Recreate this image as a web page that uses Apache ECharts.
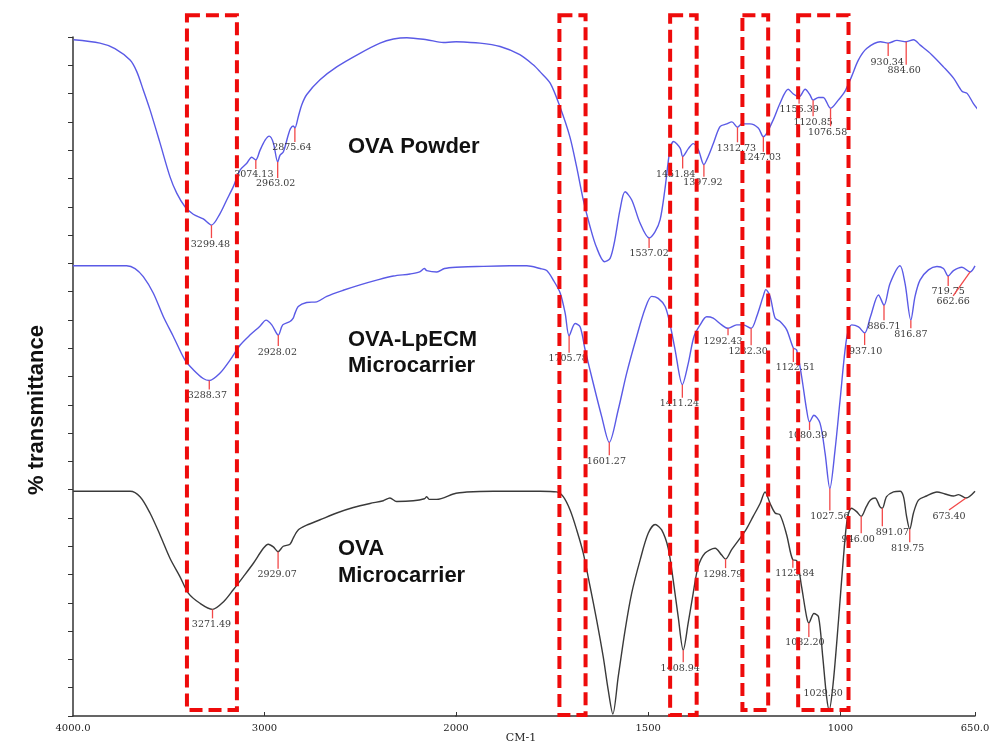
<!DOCTYPE html>
<html>
<head>
<meta charset="utf-8">
<script src="https://cdn.jsdelivr.net/npm/echarts@6/dist/echarts.min.js"></script>
<style>
  html, body { margin: 0; padding: 0; background: #fff; }
  #chart { width: 990px; height: 744px; }
</style>
</head>
<body>
<div id="chart"></div>
<script>
// FTIR spectra, wavenumber (cm-1) against % transmittance; the three traces are stacked with offsets.

// OVA powder: [wavenumber, %T]
const ovaPowder = [[4000,99.6],[3866,99.1],[3790,98.3],[3713,96.6],[3679,94.9],[3646,92.2],[3612,89.3],[3561,84.4],[3510,79.4],[3476,77.0],[3434,75.0],[3392,73.9],[3341,73.2],[3299.48,72.3],[3256,74.0],[3222,76.0],[3188,78.0],[3154,80.4],[3120,81.4],[3095,82.3],[3074.13,81.9],[3053,83.3],[3027,84.8],[3006,85.4],[2985,84.4],[2963.02,81.6],[2951,82.6],[2934,83.1],[2909,85.6],[2898,86.5],[2884,86.9],[2875.64,86.6],[2858,88.3],[2841,90.0],[2816,91.5],[2748,93.7],[2663,95.6],[2545,97.6],[2443,99.1],[2375,99.7],[2307,99.9],[2206,99.6],[2121,99.2],[2057,99.3],
  [2027,99.3],[1966,99.1],[1915,98.6],[1865,97.4],[1831,95.9],[1814,94.9],[1788,93.2],[1763,89.7],[1738,85.3],[1721,80.9],[1704,76.0],[1687,72.1],[1671,69.1],[1650,66.9],[1636,67.4],[1624,70.1],[1611,74.5],[1598,77.2],[1581,76.0],[1560,72.6],[1537.02,70.4],[1522,71.3],[1509,73.1],[1497,77.5],[1484,83.4],[1475,84.6],[1458,83.6],[1451.84,82.4],[1437,83.6],[1425,84.3],[1412,83.4],[1397.92,81.2],[1387,82.4],[1374,84.3],[1357,86.8],[1340,87.2],[1327,87.5],[1312.73,86.7],[1302,87.2],[1281,87.2],[1260,86.6],[1247.03,85.3],[1222,87.8],[1205,90.2],[1184,92.3],[1171,91.6],[1156.39,91.2],[1141,92.3],[1129,91.5],[1120.85,90.7],[1107,91.1],[1095,91.1],[1076.58,89.5],[1057,90.7],[1040,92.0],[1023,94.2],[1006,96.6],[985,98.3],[950,99.3],[930.34,99.1],[908,99.5],[884.6,99.3],[866,99.6],[849,98.8],[820,97.4],[790,95.6],[764,93.9],[743,92.0],[730,91.7],[714,90.2],[697,88.9]];
const ovaPowderPeaks = [3299.48, 3074.13, 2963.02, 2875.64, 1537.02, 1451.84, 1397.92, 1312.73, 1247.03, 1156.39, 1120.85, 1076.58, 930.34, 884.60];

// OVA-LpECM microcarrier
const ovaLpecm = [[4000,66.3],[3720,66.3],[3676,65.9],[3633,64.7],[3581,62.3],[3528,58.8],[3476,55.9],[3415,52.4],[3372,51.0],[3320,49.7],[3288.37,49.4],[3232,50.5],[3180,52.4],[3128,54.6],[3076,56.1],[3024,57.4],[2992,58.3],[2962,57.6],[2928.02,56.1],[2905,57.6],[2867,58.1],[2850,58.6],[2841,59.3],[2824,60.3],[2780,60.9],[2727,61.0],[2675,61.8],[2589,62.7],[2501,63.5],[2414,64.2],[2327,64.8],[2240,65.1],[2190,65.4],[2165,65.9],[2153,65.6],[2100,65.4],[2060,65.9],[2000,66.1],
  [1946,66.2],[1860,66.3],[1816,66.3],[1781,65.9],[1764,65.6],[1747,64.2],[1729,62.3],[1716,59.3],[1705.78,56.0],[1690,57.8],[1677,57.3],[1664,53.9],[1643,49.0],[1621,44.1],[1601.27,40.3],[1578,45.1],[1556,50.5],[1530,55.9],[1508,60.0],[1491,61.8],[1474,61.5],[1456,60.3],[1443,57.6],[1430,53.9],[1411.24,48.8],[1396,51.9],[1381,55.9],[1365,57.6],[1348,58.8],[1331,58.6],[1309,57.6],[1292.43,57.1],[1270,57.6],[1253,57.6],[1232.3,57.1],[1218,58.8],[1201,61.8],[1194,62.8],[1183,61.8],[1170,58.6],[1157,58.1],[1140,56.9],[1122.51,54.2],[1114,53.9],[1101,50.0],[1088,45.1],[1080.39,43.3],[1069,44.3],[1053,43.1],[1040,38.7],[1027.56,33.5],[1014,39.2],[1001,46.5],[984,55.6],[971,57.6],[953,57.3],[937.1,56.4],[922,58.8],[901,62.0],[886.71,60.5],[871,63.7],[845,66.3],[832,63.7],[816.87,58.3],[806,61.8],[793,64.2],[771,65.7],[749,66.2],[732,65.9],[719.75,64.8],[706,65.6],[684,66.1],[662.66,65.4],[650,66.3]];
const ovaLpecmPeaks = [3288.37, 2928.02, 1705.78, 1601.27, 1411.24, 1292.43, 1232.30, 1122.51, 1080.39, 1027.56, 937.10, 886.71, 816.87, 719.75, 662.66];

// OVA microcarrier
const ovaMicro = [[4000,33.1],[3702,33.1],[3650,32.3],[3598,29.9],[3546,26.7],[3493,23.2],[3441,20.5],[3398,18.1],[3337,16.6],[3271.49,15.7],[3215,16.8],[3163,18.6],[3111,20.5],[3058,22.5],[3006,24.7],[2980,25.3],[2954,24.9],[2929.07,24.2],[2902,25.0],[2867,25.3],[2850,26.2],[2824,27.4],[2780,28.1],[2710,28.9],[2623,29.9],[2536,30.7],[2449,31.3],[2380,31.7],[2345,32.1],[2310,31.6],[2223,31.7],[2165,32.0],[2153,32.3],[2140,31.9],[2101,31.9],[2014,32.7],[2000,32.8],
  [1972,33.0],[1903,33.1],[1781,33.1],[1738,33.0],[1721,32.3],[1703,30.3],[1686,27.4],[1669,24.0],[1651,19.0],[1634,14.1],[1617,8.7],[1604,3.8],[1592,0.3],[1578,5.8],[1560,12.7],[1543,18.1],[1521,23.0],[1500,26.9],[1482,28.2],[1465,27.4],[1448,24.7],[1435,20.0],[1422,14.6],[1408.94,9.7],[1396,13.7],[1383,18.1],[1370,22.0],[1352,24.0],[1326,24.7],[1309,23.7],[1298.79,23.1],[1283,24.5],[1261,26.2],[1244,27.6],[1227,29.4],[1209,31.3],[1196,33.0],[1183,31.3],[1170,29.9],[1157,29.6],[1140,26.7],[1123.84,23.0],[1114,22.9],[1101,19.0],[1088,14.6],[1082.2,13.7],[1069,15.1],[1057,14.6],[1046,8.7],[1036,2.8],[1029.3,0.9],[1019,4.8],[1005,14.1],[992,23.5],[982,29.1],[971,30.6],[958,30.1],[946,29.4],[933,30.8],[922,31.8],[910,32.1],[897,30.8],[891.07,30.6],[880,32.3],[862,33.0],[845,33.1],[836,32.3],[828,29.4],[819.75,27.5],[810,29.9],[797,31.8],[776,32.4],[749,33.0],[728,32.7],[706,32.4],[693,32.6],[673.4,32.1],[650,33.1]];
const ovaMicroPeaks = [3271.49, 2929.07, 1408.94, 1298.79, 1123.84, 1082.20, 1029.30, 946.00, 891.07, 819.75, 673.40];

// Axis ticks (cm-1)
const xTicksHigh = [4000, 3000, 2000];
const xTicksLow = [1500, 1000, 650];

// Highlighted bands: [from cm-1, to cm-1, top %T, bottom %T]
const bandsHigh = [[3405, 3144, 103.2, 0.9]];
const bandsLow = [[1731, 1663, 103.2, 0.15], [1443, 1374, 103.2, 0.15], [1255, 1188, 103.2, 0.9], [1110, 979, 103.2, 0.9]];

// Leader lines for the peak labels, in pixels: [dx end, dy end, label dx, label dy]
const powderLeaders = [[0,13,-1,0],[0,9,-2,0],[0,16,-2,0],[0,14,-3,0],[0,10,0,0],[0,12,-7,0],[0,12,-1,0],[0,15,-1,0],[0,15,-2,0],[0,7,0,0],[0,16,0,0],[0,18,-3,0],[0,13,-1,0],[0,23,-2,0]];
const lpecmLeaders = [[0,9,-2,0],[0,11,-1,0],[0,17,-1,0],[0,13,-3,0],[0,13,-3,0],[0,7,-5,0],[0,17,-3,0],[0,14,2,0],[0,8,-2,0],[0,22,0,0],[0,12,1,0],[0,15,0,0],[0,8,0,0],[0,10,0,0],[-17,24,0,0]];
const microLeaders = [[0,9,-1,0],[0,17,-1,0],[0,12,-3,0],[0,9,-3,0],[0,8,2,0],[0,14,-4,0],[0,0,-6,-22],[0,17,-3,0],[0,18,10,0],[0,13,-2,0],[-17,12,0,0]];

const BLUE = '#5a5ae6';
const GREY = '#3a3a3a';
const LABEL_FONT = '9.5px "DejaVu Serif", serif';

function lineSeries(data, xi, yi, color, clip) {
  return {
    type: 'line', xAxisIndex: xi, yAxisIndex: yi, data: data,
    showSymbol: false, symbol: 'none', smooth: 0.3, clip: clip, silent: true,
    lineStyle: { color: color, width: 1.4 }, z: 3
  };
}

function peakSeries(data, peaks, leaders, xi, yi, inside) {
  const items = [];
  peaks.forEach(function (wn, k) {
    if (!inside(wn)) return;
    const pt = data.find(function (d) { return d[0] === wn; });
    items.push({ value: [wn, pt[1]], lead: leaders[k], text: wn.toFixed(2) });
  });
  return {
    type: 'custom', xAxisIndex: xi, yAxisIndex: yi, clip: false, silent: true, z: 4,
    data: items.map(function (it) { return it.value; }),
    renderItem: function (params, api) {
      const it = items[params.dataIndex];
      const p = api.coord([api.value(0), api.value(1)]);
      const l = it.lead;
      const e = [p[0] + l[0], p[1] + l[1]];
      return {
        type: 'group',
        children: [
          { type: 'line', shape: { x1: p[0], y1: p[1], x2: e[0], y2: e[1] },
            style: { stroke: '#f24848', lineWidth: 1.3 } },
          { type: 'text', x: e[0] + l[2], y: e[1] + l[3] + 1,
            style: { text: it.text, font: LABEL_FONT, fill: '#3a3a3a',
                     align: 'center', verticalAlign: 'top', textAlign: 'center', textVerticalAlign: 'top' } }
        ]
      };
    }
  };
}

function bandSeries(list, xi, yi) {
  return {
    type: 'custom', xAxisIndex: xi, yAxisIndex: yi, clip: false, silent: true, z: 10,
    data: list, encode: { x: [0, 1], y: [2, 3] },
    renderItem: function (params, api) {
      const a = api.coord([api.value(0), api.value(2)]);
      const b = api.coord([api.value(1), api.value(3)]);
      return {
        type: 'rect',
        shape: { x: a[0], y: a[1], width: b[0] - a[0], height: b[1] - a[1] },
        style: { fill: 'none', stroke: '#ee0b0b', lineWidth: 4, lineDash: [13, 6] }
      };
    }
  };
}

const axisColor = '#333';
const tickFont = { fontFamily: '"DejaVu Serif", serif', fontSize: 10, color: '#222' };

const option = {
  animation: false,
  backgroundColor: '#fff',
  grid: [
    { left: 73, top: 37, width: 383, height: 679, outerBoundsMode: 'none' },
    { left: 456, top: 37, width: 519, height: 679, outerBoundsMode: 'none' }
  ],
  xAxis: [
    { // 4000–2000 cm-1, compressed scale
      type: 'value', gridIndex: 0, min: 2000, max: 4000, inverse: true, position: 'bottom',
      axisLine: { onZero: false, lineStyle: { color: axisColor, width: 1.5 } },
      axisTick: { show: true, inside: true, length: 4, customValues: xTicksHigh.slice(1), lineStyle: { color: axisColor } },
      axisLabel: { customValues: xTicksHigh, margin: 7, formatter: function (v) { return v === 4000 ? '4000.0' : String(v); }, ...tickFont },
      splitLine: { show: false }
    },
    { // 2000–650 cm-1
      type: 'value', gridIndex: 1, min: 650, max: 2000, inverse: true, position: 'bottom',
      axisLine: { onZero: false, lineStyle: { color: axisColor, width: 1.5 } },
      axisTick: { show: true, inside: true, length: 4, customValues: xTicksLow, lineStyle: { color: axisColor } },
      axisLabel: { customValues: xTicksLow, margin: 7, formatter: function (v) { return v === 650 ? '650.0' : String(v); }, ...tickFont },
      splitLine: { show: false }
    },
    // the powder spectrum was recorded on its own, slightly offset scale
    { type: 'value', gridIndex: 0, min: 2057, max: 4003, inverse: true, position: 'top', show: false },
    { type: 'value', gridIndex: 1, min: 710, max: 2027, inverse: true, position: 'top', show: false }
  ],
  yAxis: [
    {
      type: 'value', gridIndex: 0, min: 0, max: 100, interval: 25 / 6,
      axisLine: { show: true, lineStyle: { color: axisColor, width: 1.5 } },
      axisTick: { show: true, inside: false, length: 5, lineStyle: { color: axisColor } },
      axisLabel: { show: false }, splitLine: { show: false }
    },
    { type: 'value', gridIndex: 1, min: 0, max: 100, show: false, splitLine: { show: false } }
  ],
  graphic: [
    { type: 'text', x: 348, y: 147, style: { text: 'OVA Powder', font: 'bold 22px "Liberation Sans", Arial, sans-serif', fill: '#111', verticalAlign: 'middle', textVerticalAlign: 'middle' } },
    { type: 'text', x: 348, y: 340, style: { text: 'OVA-LpECM', font: 'bold 22px "Liberation Sans", Arial, sans-serif', fill: '#111', verticalAlign: 'middle', textVerticalAlign: 'middle' } },
    { type: 'text', x: 348, y: 366, style: { text: 'Microcarrier', font: 'bold 22px "Liberation Sans", Arial, sans-serif', fill: '#111', verticalAlign: 'middle', textVerticalAlign: 'middle' } },
    { type: 'text', x: 338, y: 549, style: { text: 'OVA', font: 'bold 22px "Liberation Sans", Arial, sans-serif', fill: '#111', verticalAlign: 'middle', textVerticalAlign: 'middle' } },
    { type: 'text', x: 338, y: 576, style: { text: 'Microcarrier', font: 'bold 22px "Liberation Sans", Arial, sans-serif', fill: '#111', verticalAlign: 'middle', textVerticalAlign: 'middle' } },
    { type: 'text', x: 37, y: 410, rotation: Math.PI / 2, style: { text: '% transmittance', font: 'bold 22px "Liberation Sans", Arial, sans-serif', fill: '#111', align: 'center', verticalAlign: 'middle', textAlign: 'center', textVerticalAlign: 'middle' } },
    { type: 'text', x: 521, y: 738, style: { text: 'CM-1', font: '11px "DejaVu Serif", serif', fill: '#222', align: 'center', verticalAlign: 'middle', textAlign: 'center', textVerticalAlign: 'middle' } }
  ],
  series: []
};

// Split each spectrum at the scale change and attach its peak annotations
const powderHigh = ovaPowder.filter(function (d) { return d[0] >= 2057; });
const powderLow = ovaPowder.filter(function (d) { return d[0] <= 2027; });
const lpecmHigh = ovaLpecm.filter(function (d) { return d[0] >= 2000; });
const lpecmLow = ovaLpecm.filter(function (d) { return d[0] <= 2000; });
const microHigh = ovaMicro.filter(function (d) { return d[0] >= 2000; });
const microLow = ovaMicro.filter(function (d) { return d[0] <= 2000; });
const isHigh = function (wn) { return wn >= 2000; };
const isLow = function (wn) { return wn < 2000; };

option.series.push(
  lineSeries(powderHigh, 2, 0, BLUE, true),
  lineSeries(powderLow, 3, 1, BLUE, false),
  lineSeries(lpecmHigh, 0, 0, BLUE, true),
  lineSeries(lpecmLow, 1, 1, BLUE, true),
  lineSeries(microHigh, 0, 0, GREY, true),
  lineSeries(microLow, 1, 1, GREY, true),
  peakSeries(ovaPowder, ovaPowderPeaks, powderLeaders, 2, 0, isHigh),
  peakSeries(ovaPowder, ovaPowderPeaks, powderLeaders, 3, 1, isLow),
  peakSeries(ovaLpecm, ovaLpecmPeaks, lpecmLeaders, 0, 0, isHigh),
  peakSeries(ovaLpecm, ovaLpecmPeaks, lpecmLeaders, 1, 1, isLow),
  peakSeries(ovaMicro, ovaMicroPeaks, microLeaders, 0, 0, isHigh),
  peakSeries(ovaMicro, ovaMicroPeaks, microLeaders, 1, 1, isLow),
  bandSeries(bandsHigh, 0, 0),
  bandSeries(bandsLow, 1, 1)
);

const chart = echarts.init(document.getElementById('chart'), null, { renderer: 'canvas' });
chart.setOption(option);
</script>
</body>
</html>
